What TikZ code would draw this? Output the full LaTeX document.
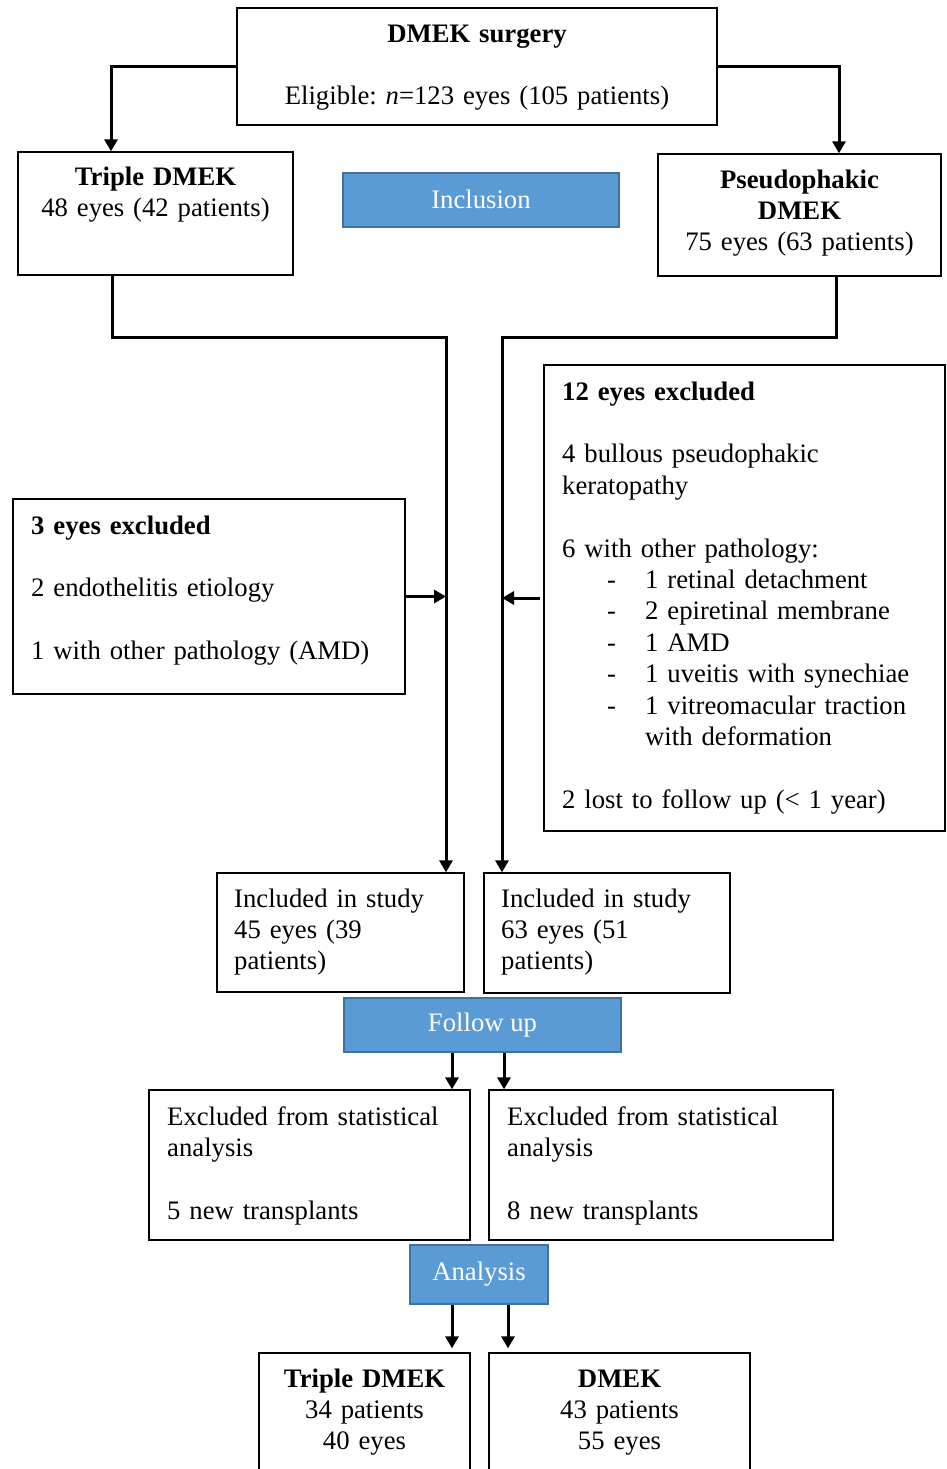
\documentclass[tikz,border=0pt]{standalone}
\usepackage{fontspec}
\setmainfont{Liberation Serif}
\usetikzlibrary{arrows.meta,fit}
\definecolor{bfill}{HTML}{5B9BD5}
\definecolor{bline}{HTML}{41719C}
\newcommand\myfs{\fontsize{26.7}{31.4}\selectfont}
\frenchspacing
\begin{document}
\begin{tikzpicture}[x=1pt,y=-1pt,
  box/.style={draw, line width=1.3pt, inner sep=0pt},
  bluebox/.style={draw=bline, line width=2pt, fill=bfill, inner sep=0pt},
  btext/.style={inner sep=0pt, text=white, font=\myfs, text depth=0pt, anchor=center},
  tl/.style={inner sep=0pt, font=\myfs, align=left, anchor=north west},
  tc/.style={inner sep=0pt, font=\myfs, align=center, anchor=north},
  conn/.style={line width=3pt},
  arr/.style={line width=3pt, -{Triangle[width=13pt,length=12pt]}}]
\useasboundingbox (0,0) rectangle (946,1469);
\clip (0,0) rectangle (946,1469);
\fill[white] (0,0) rectangle (946,1469);

% boxes
\node[box, fit={(237,8) (717,125)}] (top) {};
\node[box, fit={(18,152) (293,275)}] (tri) {};
\node[box, fit={(658,154) (941,276)}] (pse) {};
\node[bluebox, fit={(343,173) (619,227)}] (inc) {};
\node[box, fit={(13,499) (405,694)}] (exL) {};
\node[box, fit={(544,365) (945,831)}] (exR) {};
\node[box, fit={(217,873) (464,992)}] (inL) {};
\node[box, fit={(484,873) (730,993)}] (inR) {};
\node[bluebox, fit={(344,998) (621,1052)}] (fu) {};
\node[box, fit={(149,1090) (470,1240)}] (stL) {};
\node[box, fit={(489,1090) (833,1240)}] (stR) {};
\node[bluebox, fit={(410,1245) (548,1304)}] (an) {};
\node[box, fit={(259,1353) (470,1480)}] (fiL) {};
\node[box, fit={(489,1353) (750,1480)}] (fiR) {};

% blue box labels
\node[btext] (tinc) at ([yshift=1pt]inc.center) {Inclusion};
\node[btext] (tfu) at ([yshift=3pt]fu.center) {Follow up};
\node[btext] (tan) at ([yshift=3pt]an.center) {Analysis};

% texts
\node[tc, text width=480pt] (ttop) at (477,20) {\strut\textbf{DMEK surgery}\\ ~\\ Eligible: \textit{n}=123 eyes (105 patients)};
\node[tc, text width=275pt] (ttri) at (155.5,163) {\strut\textbf{Triple DMEK}\\48 eyes (42 patients)};
\node[tc, text width=283pt] (tpse) at (799.5,166) {\strut\textbf{Pseudophakic}\\\textbf{DMEK}\\75 eyes (63 patients)};
\node[tl, text width=370pt] (texL) at (31,512) {\strut\textbf{3 eyes excluded}\\ ~\\ 2 endothelitis etiology\\ ~\\ 1 with other pathology (AMD)};
\node[tl, text width=380pt] (texR) at (562,378) {\strut\textbf{12 eyes excluded}\\ ~\\ 4 bullous pseudophakic\\ keratopathy\\ ~\\ 6 with other pathology:\\
\hspace*{45pt}\makebox[38pt][l]{-}1 retinal detachment\\
\hspace*{45pt}\makebox[38pt][l]{-}2 epiretinal membrane\\
\hspace*{45pt}\makebox[38pt][l]{-}1 AMD\\
\hspace*{45pt}\makebox[38pt][l]{-}1 uveitis with synechiae\\
\hspace*{45pt}\makebox[38pt][l]{-}1 vitreomacular traction\\
\hspace*{83pt}with deformation\\ ~\\ 2 lost to follow up (< 1 year)};
\node[tl, text width=225pt] (tinL) at (234,885) {\strut Included in study\\45 eyes (39\\patients)};
\node[tl, text width=225pt] (tinR) at (501,885) {\strut Included in study\\63 eyes (51\\patients)};
\node[tl, text width=300pt] (tstL) at (167,1103) {\strut Excluded from statistical\\analysis\\ ~\\ 5 new transplants};
\node[tl, text width=320pt] (tstR) at (507,1103) {\strut Excluded from statistical\\analysis\\ ~\\ 8 new transplants};
\node[tc, text width=211pt] (tfiL) at (364.5,1365) {\strut\textbf{Triple DMEK}\\34 patients\\40 eyes};
\node[tc, text width=261pt] (tfiR) at (619.5,1365) {\strut\textbf{DMEK}\\43 patients\\55 eyes};

% connector columns
\coordinate (vL) at (446,337);
\coordinate (vR) at (502,337);

\draw[arr] (top.west) -| ([xshift=-44.5pt]tri.north);
\draw[arr] (top.east) -| ([xshift=39.5pt]pse.north);
\draw[conn] ([xshift=-43.5pt]tri.south) |- (vL);
\draw[arr] ([xshift=-43.5pt]tri.south |- vL) -| (vL |- inL.north);
\draw[conn] ([xshift=36.5pt]pse.south) |- (vR);
\draw[arr] ([xshift=36.5pt]pse.south |- vR) -| (vR |- inR.north);
\draw[arr] (exL.east) -- (exL.east -| vL);
\draw[arr] ([xshift=-3pt]exR.west) -- (exR.west -| vR);
\draw[arr] ([xshift=-30.5pt]fu.south) -- ([xshift=-30.5pt]fu.south |- stL.north);
\draw[arr] ([xshift=21.5pt]fu.south) -- ([xshift=21.5pt]fu.south |- stR.north);
\draw[arr, shorten >=4pt] ([xshift=-27pt]an.south) -- ([xshift=-27pt]an.south |- fiL.north);
\draw[arr, shorten >=4pt] ([xshift=29pt]an.south) -- ([xshift=29pt]an.south |- fiR.north);
\end{tikzpicture}
\end{document}
